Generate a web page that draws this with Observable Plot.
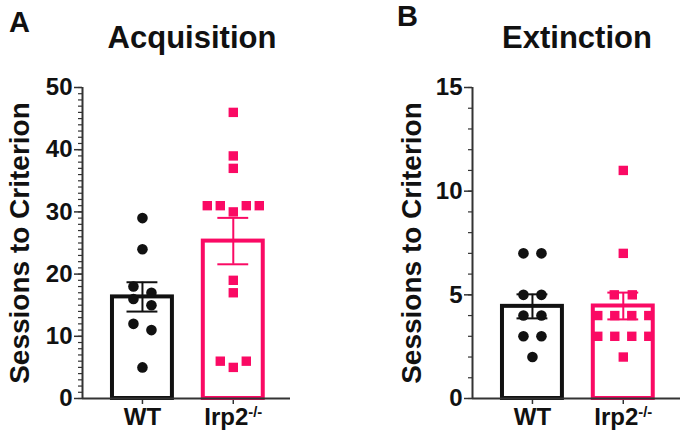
<!DOCTYPE html>
<html><head><meta charset="utf-8">
<script src="https://cdn.jsdelivr.net/npm/d3@7"></script>
<script src="https://cdn.jsdelivr.net/npm/@observablehq/plot@0.6"></script>
<style>
body{margin:0;background:#fff;}
#wrap{position:relative;width:688px;height:440px;overflow:hidden;font-family:"Liberation Sans",Arial,sans-serif;font-weight:bold;color:#111;}
.t{position:absolute;white-space:nowrap;line-height:1;}
.panel{position:absolute;top:0;}
</style></head><body><div id="wrap">
<div class="t" style="left:9px;top:8px;font-size:29px;">A</div>
<div class="t" style="left:397px;top:2px;font-size:29px;">B</div>
<div class="t" style="left:192px;top:22px;font-size:31px;transform:translateX(-50%);">Acquisition</div>
<div class="t" style="left:577px;top:22px;font-size:31px;transform:translateX(-50%);">Extinction</div>
</div>
<script>
// ---- data ----
const groups = ["WT", "Irp2-/-"];
const colors = ["#111111", "#fa0a64"];
const acqWT   = [29, 24, 18, 17, 16, 15, 12, 11, 5];
const acqIrp2 = [46, 39, 37, 31, 31, 31, 31, 30, 19, 17, 6, 6, 5];
const extWT   = [7, 7, 5, 5, 4, 4, 3, 3, 2];
const extIrp2 = [11, 7, 5, 5, 4, 4, 4, 4, 3, 3, 3, 3, 2];
const acqTicks = [0, 10, 20, 30, 40, 50];
const extTicks = [0, 5, 10, 15];
const yLabel = "Sessions to Criterion";

// ---- layout ----
const W = 344, H = 440, mT = 87, mB = 42, frameW = 208;
const xDomain = [0.34, 2.63];

function stats(arrs) {
  return arrs.map((v, k) => {
    const m = d3.mean(v), s = d3.deviation(v) / Math.sqrt(v.length);
    return {group: groups[k], i: k + 1, mean: m, lo: m - s, hi: m + s};
  });
}

// simple scatter layout: bin nearby values, spread each bin symmetrically
function layout(arrs, yMax, wide) {
  const pxY = (H - mT - mB) / yMax, pxX = frameW / (xDomain[1] - xDomain[0]), diam = 10;
  const out = [];
  arrs.forEach((vals, k) => {
    const sorted = [...vals].sort((a, b) => b - a);
    const bins = []; let cur = null;
    for (const v of sorted) {
      if (cur && (cur[0] - v) * pxY < diam) cur.push(v); else { cur = [v]; bins.push(cur); }
    }
    for (const bin of bins) {
      const n = bin.length, s = n === 2 ? 18 : wide;
      const asc = [...bin].sort((a, b) => a - b);
      const slots = [];
      if (n % 2) { slots.push(0); for (let j = 1; j <= (n - 1) / 2; j++) slots.push(j, -j); }
      else { for (let j = 0; j < n / 2; j++) slots.push(j + 0.5, -(j + 0.5)); }
      asc.forEach((v, q) => out.push({group: groups[k], value: v, x: k + 1 + slots[q] * s / pxX}));
    }
  });
  return out;
}

function panel(arrs, yMax, ticks, wide, mL, mR, labelDx) {
  const st = stats(arrs), pts = layout(arrs, yMax, wide);
  const p = Plot.plot({
    width: W, height: H, marginTop: mT, marginBottom: mB, marginLeft: mL, marginRight: mR,
    style: {fontFamily: "Liberation Sans, Arial, sans-serif", fontWeight: "bold", color: "#111", background: "transparent", overflow: "visible"},
    x: {domain: xDomain},
    y: {domain: [0, yMax]},
    color: {domain: groups, range: colors},
    symbol: {domain: groups, range: ["circle", "square"]},
    marks: [
      Plot.axisY({ticks: d3.range(0, yMax + 1, 1), tickSize: 4, tickFormat: () => "", label: null, stroke: "#333", strokeWidth: 1.2}),
      Plot.axisY({ticks, tickSize: 8, tickPadding: 2, label: null, fontSize: 24, fontWeight: "bold", fill: "#111", stroke: "#333", strokeWidth: 1.5}),
      Plot.axisX({ticks: [1, 2], tickFormat: d => groups[d - 1], tickSize: 6, tickPadding: 3, label: null, fontSize: 24, fontWeight: "bold", fill: "#111", stroke: "#333", strokeWidth: 1.5}),
      Plot.rectY(st, {x1: d => d.i - 0.33, x2: d => d.i + 0.33, y1: d => 0, y2: "mean", fill: "white", stroke: "group", strokeWidth: 4}),
      Plot.ruleX(st, {x: "i", y1: "lo", y2: "hi", stroke: "group", strokeWidth: 2}),
      Plot.ruleY(st, {y: "hi", x1: d => d.i - 0.17, x2: d => d.i + 0.17, stroke: "group", strokeWidth: 2}),
      Plot.ruleY(st, {y: "lo", x1: d => d.i - 0.17, x2: d => d.i + 0.17, stroke: "group", strokeWidth: 2}),
      Plot.dot(pts, {x: "x", y: "value", fill: "group", symbol: "group", r: 5.3}),
      Plot.ruleY([0], {stroke: "#333", strokeWidth: 2}),
      Plot.ruleX([xDomain[0]], {stroke: "#333", strokeWidth: 2}),
      Plot.text([yLabel], {frameAnchor: "left", dx: labelDx, rotate: -90, textAnchor: "middle", fontSize: 28, fontWeight: "bold", fill: "#111"})
    ]
  });
  p.querySelectorAll("text").forEach(t => {
    if (t.textContent === "Irp2-/-") {
      t.textContent = "Irp2";
      const ts = document.createElementNS("http://www.w3.org/2000/svg", "tspan");
      ts.setAttribute("dy", "-0.5em");
      ts.setAttribute("font-size", "0.62em");
      ts.textContent = "-/-";
      t.appendChild(ts);
    }
  });
  return p;
}

const wrap = document.getElementById("wrap");
const pa = panel([acqWT, acqIrp2], 50, acqTicks, 13, 82, 54, -62);
pa.classList.add("panel"); pa.style.left = "0px";
const pb = panel([extWT, extIrp2], 15, extTicks, 17, 128, 8, -60);
pb.classList.add("panel"); pb.style.left = "344px";
wrap.appendChild(pa); wrap.appendChild(pb);
</script>
</body></html>
